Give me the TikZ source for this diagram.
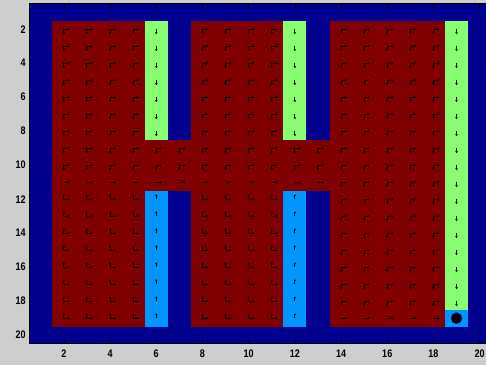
\documentclass[tikz,border=0pt]{standalone}
\usepackage{fontspec}
\usepackage{graphicx}
\usetikzlibrary{arrows.meta}
\newfontfamily\tickfont{Liberation Sans}
\definecolor{wallblue}{RGB}{0,0,143}
\definecolor{roomred}{RGB}{128,0,0}
\definecolor{pathgreen}{RGB}{136,255,112}
\definecolor{pathblue}{RGB}{0,150,255}
\definecolor{figgray}{RGB}{206,206,206}
\begin{document}
\begin{tikzpicture}[x=1pt,y=-1pt,
  qv/.style={black,line width=0.95pt,-{Stealth[length=2.2pt,width=2.6pt]}},
  walldot/.style={black},
  framestyle/.style={black,line width=0.8pt},
  tickstyle/.style={black,line width=0.6pt},
  ticklabel/.style={inner sep=0pt,font=\tickfont\bfseries\fontsize{11}{13}\selectfont}]
\useasboundingbox (0,0) rectangle (486,365);
\fill[figgray] (0,0) rectangle (486,365);
\begin{scope}
\clip (0,0) rectangle (486,365);
\begin{scope}[shift={(17.65pt,4.8pt)},x=23.1pt,y=-17pt]
  % cells
  \fill[wallblue] (0.5,0.5) rectangle (20.5,20.5);
  \fill[roomred] (1.5,1.5) rectangle (5.5,19.5);
  \fill[roomred] (7.5,1.5) rectangle (11.5,19.5);
  \fill[roomred] (13.5,1.5) rectangle (18.5,19.5);
  \fill[roomred] (5.5,8.5) rectangle (13.5,11.5);
  \fill[pathgreen] (5.5,1.5) rectangle (6.5,8.5);
  \fill[pathgreen] (11.5,1.5) rectangle (12.5,8.5);
  \fill[pathgreen] (18.5,1.5) rectangle (19.5,18.5);
  \fill[pathblue] (5.5,11.5) rectangle (6.5,19.5);
  \fill[pathblue] (11.5,11.5) rectangle (12.5,19.5);
  \fill[pathblue] (18.5,18.5) rectangle (19.5,19.5);
  % wall dots
  \foreach \c in {1,...,20} {
    \fill[walldot] (\c,1) circle (0.6pt);
    \fill[walldot] (\c,20) circle (0.6pt);
  }
  \foreach \r in {2,...,19} {
    \fill[walldot] (1,\r) circle (0.6pt);
    \fill[walldot] (20,\r) circle (0.6pt);
  }
  \foreach \r in {2,...,8} {
    \fill[walldot] (7,\r) circle (0.6pt);
    \fill[walldot] (13,\r) circle (0.6pt);
  }
  \foreach \r in {12,...,19} {
    \fill[walldot] (7,\r) circle (0.6pt);
    \fill[walldot] (13,\r) circle (0.6pt);
  }
  % right + down
  \foreach \c in {2,...,5,8,9,10,11} {
    \foreach \r in {2,...,10} {
      \draw[qv] (\c,\r) -- ++(6pt,0pt);
      \draw[qv] (\c,\r) -- ++(0pt,-5pt);
    }
  }
  \foreach \c in {6,7,12,13} {
    \foreach \r in {9,10} {
      \draw[qv] (\c,\r) -- ++(6pt,0pt);
      \draw[qv] (\c,\r) -- ++(0pt,-5pt);
    }
  }
  \foreach \c in {14,...,18} {
    \foreach \r in {2,...,18} {
      \draw[qv] (\c,\r) -- ++(6pt,0pt);
      \draw[qv] (\c,\r) -- ++(0pt,-5pt);
    }
    \draw[qv] (\c,19) -- ++(6pt,0pt);
  }
  % right only, corridor bottom row
  \foreach \c in {2,...,13} {
    \draw[qv] (\c,11) -- ++(6pt,0pt);
  }
  % up + right
  \foreach \c in {2,...,5,8,9,10,11} {
    \foreach \r in {12,...,19} {
      \draw[qv] (\c,\r) -- ++(6pt,0pt);
      \draw[qv] (\c,\r) -- ++(0pt,5pt);
    }
  }
  % green (down) and light blue (up) cells
  \foreach \c in {6,12} {
    \foreach \r in {2,...,8} {
      \draw[qv] (\c,\r) -- ++(0pt,-5pt);
    }
    \foreach \r in {12,...,19} {
      \draw[qv] (\c,\r) -- ++(0pt,5pt);
    }
  }
  \foreach \r in {2,...,18} {
    \draw[qv] (19,\r) -- ++(0pt,-5pt);
  }
  % goal
  \node[circle,fill=black,draw=wallblue,line width=0.4pt,minimum size=11pt,inner sep=0pt] (goal) at (19,19) {};
  % frame and ticks
  \draw[framestyle] (0.5,0.5) rectangle (20.5,20.5);
  \foreach \u in {2,4,...,20} {
    \draw[tickstyle] (\u,20.5) -- ++(0pt,4pt);
    \draw[tickstyle] (\u,0.5) -- ++(0pt,-4pt);
    \node[ticklabel] (xt\u) at (\u,21.09) {\scalebox{0.82}[1]{\u}};
  }
  \foreach \v in {2,4,...,20} {
    \draw[tickstyle] (0.5,\v) -- ++(4pt,0pt);
    \node[ticklabel,anchor=east] (yt\v) at (0.36,\v) {\scalebox{0.82}[1]{\v}};
  }
\end{scope}
\end{scope}
\end{tikzpicture}
\end{document}
